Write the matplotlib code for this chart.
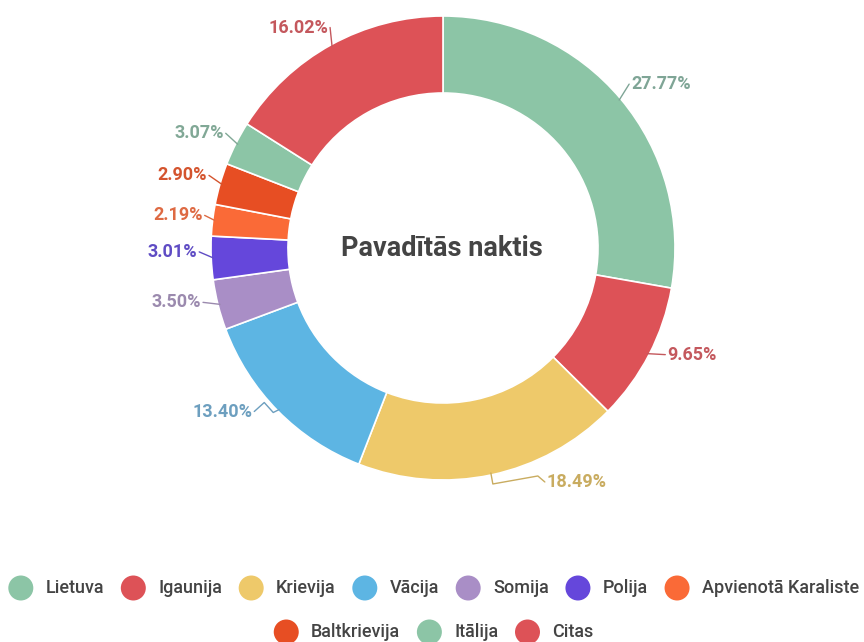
import matplotlib
matplotlib.use("Agg")
import matplotlib.pyplot as plt
import numpy as np

# ---- data ----
categories = ["Lietuva", "Igaunija", "Krievija", "Vācija", "Somija", "Polija",
              "Apvienotā Karaliste", "Baltkrievija", "Itālija", "Citas"]
values = [27.77, 9.65, 18.49, 13.40, 3.50, 3.01, 2.19, 2.90, 3.07, 16.02]
title = "Pavadītās naktis"

# ---- styles ----
colors = ["#8cc5a6", "#dd5257", "#eec96a", "#5db5e3", "#a98ec6", "#6547db",
          "#fa6a37", "#e74e23", "#8cc5a6", "#dd5257"]
label_colors = ["#7fa596", "#c4585d", "#c9ac60", "#6d9fbf", "#9b8aae", "#5f4cc4",
                "#de6a43", "#d4542e", "#81a896", "#c4585d"]
# label offsets from slice anchor in screen pixels (dx, dy down) and elbow points
label_offsets = [(12, -16), (20, 1), (56, 9), (-27, 2), (-19, -2), (-16, -6),
                 (-12, -5), (-15, -9), (-14, -11), (-4, -19)]
elbows = [[], [], [(2, 11), (47, 3)], [(-6, 3), (-15, -7)], [], [], [], [], [], []]

W, H = 864, 642
CX, CY, R, RW = 443, 248, 232, 77

plt.rcParams['font.family'] = ['Roboto', 'DejaVu Sans']

fig = plt.figure(figsize=(W / 100, H / 100), dpi=100)
ax = fig.add_axes([0, 0, 1, 1])

wedges, _ = ax.pie(values, colors=colors, startangle=90, counterclock=False,
                   center=(CX, H - CY), radius=R,
                   wedgeprops=dict(width=RW, edgecolor="white", linewidth=1.2))
ax.set_xlim(0, W)
ax.set_ylim(0, H)
ax.set_aspect('equal')
ax.axis('off')

for w, v, lc, (dx, dy), el in zip(wedges, values, label_colors, label_offsets, elbows):
    mid = np.deg2rad((w.theta1 + w.theta2) / 2)
    ax_px = CX + (R - 2) * np.cos(mid)
    ay_px = CY - (R - 2) * np.sin(mid)
    tx, ty = ax_px + dx, ay_px + dy
    ha = 'left' if dx > 0 else 'right'
    pts = [(ax_px, ay_px)] + [(ax_px + ex, ay_px + ey) for ex, ey in el]
    pts.append((tx - (2 if dx > 0 else -2), ty))
    xs = [p[0] for p in pts]
    ys = [H - p[1] for p in pts]
    ax.plot(xs, ys, color=lc, lw=1.0, solid_capstyle='round')
    ax.text(tx, H - ty, f"{v:.2f}%", color=lc, fontsize=13, fontweight='bold',
            ha=ha, va='center')

ax.text(CX - 1, H - 248, title, ha='center', va='center', fontsize=19.5,
        fontweight='bold', color='#444444')

# ---- legend (manual, two centred rows) ----
fig.canvas.draw()
renderer = fig.canvas.get_renderer()
leg_font = dict(fontsize=13, fontweight='medium', color='#444444')
circle_d = 24
gap_ct = 13
gap_item = 17
rows = [list(range(0, 7)), list(range(7, 10))]
row_y = [588, 632]
for row, yy in zip(rows, row_y):
    widths = []
    for i in row:
        t = ax.text(0, 0, categories[i], **leg_font)
        bb = t.get_window_extent(renderer)
        widths.append(bb.width)
        t.remove()
    total = sum(circle_d + gap_ct + wd for wd in widths) + gap_item * (len(row) - 1)
    x = W / 2 - total / 2 + 2
    for i, wd in zip(row, widths):
        ax.scatter([x + circle_d / 2], [H - yy], s=(circle_d * 0.75) ** 2,
                   color=colors[i], edgecolors='none', zorder=5)
        ax.text(x + circle_d + gap_ct, H - yy, categories[i], ha='left',
                va='center', **leg_font)
        x += circle_d + gap_ct + wd + gap_item

fig.savefig("out.png", dpi=100, facecolor='white')
